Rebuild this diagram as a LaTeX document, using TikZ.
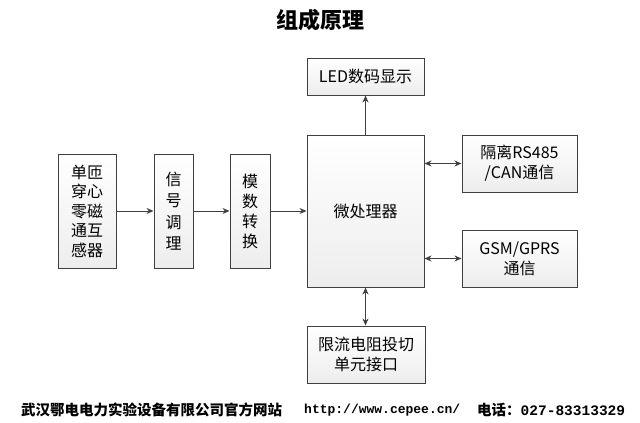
\documentclass[tikz,border=0pt]{standalone}
\usepackage{fontspec}
\setmainfont{Noto Sans CJK SC}
\newfontfamily\monofont{Liberation Mono}
\usetikzlibrary{arrows.meta}

\begin{document}
\begin{tikzpicture}[x=1pt,y=-1pt,
    box/.style={draw=black!75,line width=1pt,top color=white,bottom color=black!7,
      align=center,inner sep=0pt,font=\fontsize{16}{20}\selectfont},
    link/.style={-{Stealth[length=7pt,width=6pt]},line width=0.9pt,draw=black!75},
    both/.style={{Stealth[length=7pt,width=6pt]}-{Stealth[length=7pt,width=6pt]},line width=0.9pt,draw=black!75},
    foot/.style={anchor=west,inner sep=0pt}]
  \useasboundingbox (0,0) rectangle (640,423);
  \node[font=\fontsize{22}{22}\selectfont\bfseries] (title) at (320,20) {组成原理};
  % signal chain
  \node[box,minimum width=58pt,minimum height=114pt,font=\fontsize{16}{19.5}\selectfont] (sensor) at (87,211) {单匝\\穿心\\零磁\\通互\\感器};
  \node[box,minimum width=39pt,minimum height=114pt,font=\fontsize{16}{21.5}\selectfont] (cond) at (173.5,211) {信\\号\\调\\理};
  \node[box,minimum width=40pt,minimum height=114pt] (adc) at (250,211) {模\\数\\转\\换};
  \node[box,minimum width=117pt,minimum height=152pt] (mcu) at (365.5,211) {微处理器};
  % peripherals
  \node[box,minimum width=117pt,minimum height=37pt] (led) at (365.5,76.5) {LED数码显示};
  \node[box,minimum width=115pt,minimum height=57pt] (iso) at (519.5,163.5) {隔离RS485\\/CAN通信};
  \node[box,minimum width=115pt,minimum height=57pt] (gsm) at (519.5,258.5) {GSM/GPRS\\通信};
  \node[box,minimum width=118pt,minimum height=57pt] (limit) at (366,354.5) {限流电阻投切\\单元接口};
  \draw[link] (sensor) -- (cond);
  \draw[link] (cond) -- (adc);
  \draw[link] (adc) -- (mcu);
  \draw[link] (mcu) -- (led);
  \draw[both] (mcu.east |- iso) -- (iso.west);
  \draw[both] (mcu.east |- gsm) -- (gsm.west);
  \draw[both] (mcu.south) -- (mcu.south |- limit.north);
  % footer
  \node[foot,font=\fontsize{14.5}{15}\selectfont\bfseries] (company) at (21,410) {武汉鄂电电力实验设备有限公司官方网站};
  \node[foot,font=\monofont\fontsize{13}{15}\selectfont\bfseries] (site) at (304,410) {http://www.cepee.cn/};
  \node[foot,font=\fontsize{14.5}{15}\selectfont\bfseries] (phone) at (477,410) {电话：{\monofont 027-83313329}};
\end{tikzpicture}
\end{document}
